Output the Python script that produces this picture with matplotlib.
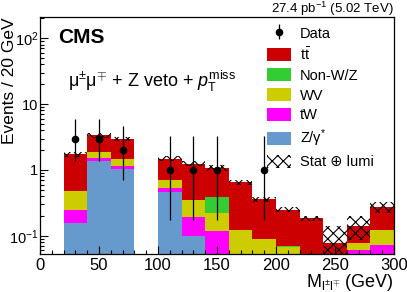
import numpy as np
import matplotlib
matplotlib.use("Agg")
import matplotlib.pyplot as plt
from matplotlib.patches import Patch

plt.rcParams['font.family'] = ['Liberation Sans', 'DejaVu Sans']
plt.rcParams['mathtext.fontset'] = 'custom'
plt.rcParams['mathtext.rm'] = 'Liberation Sans'
plt.rcParams['mathtext.it'] = 'Liberation Sans:italic'
plt.rcParams['mathtext.bf'] = 'Liberation Sans:bold'
plt.rcParams['hatch.linewidth'] = 0.8

# bin edges (GeV), 20 GeV bins
edges = [20, 40, 60, 80, 100, 120, 140, 160, 180, 200, 220, 240, 260, 280, 300]

# stacked backgrounds, bottom to top
zgamma = [0.156, 1.39, 1.02, 0, 0.46, 0.10, 0, 0, 0, 0, 0, 0, 0, 0]
tw     = [0.092, 0.13, 0.13, 0, 0.08, 0.095, 0.119, 0, 0, 0, 0, 0, 0.061, 0.073]
wv     = [0.232, 0.38, 0.34, 0, 0.16, 0.149, 0.10, 0.122, 0.089, 0.067, 0, 0, 0.016, 0.049]
nonwz  = [0, 0, 0, 0, 0, 0, 0.17, 0, 0, 0.003, 0, 0, 0, 0]
ttbar  = [1.25, 1.49, 1.50, 0, 0.79, 0.906, 0.69, 0.53, 0.27, 0.18, 0.184, 0.079, 0.065, 0.15]
# stat (+) lumi uncertainty on the total
unc    = [0.16, 0.30, 0.20, 0, 0.13, 0.10, 0.11, 0.06, 0.03, 0.02, 0.014, 0.062, 0.055, 0.05]

# data points
data_x  = [30, 50, 70, 110, 130, 150, 190]
data_y  = [3, 3, 2, 1, 1, 1, 1]
data_lo = [1.37, 1.37, 0.71, 0.173, 0.173, 0.173, 0.173]
data_hi = [5.92, 5.92, 4.64, 3.30, 3.30, 3.30, 3.30]

components = [
    (zgamma, '#6699cc', r'Z/γ$^{*}$'),
    (tw, '#ff00ff', 'tW'),
    (wv, '#cccc00', 'WV'),
    (nonwz, '#33cc33', 'Non-W/Z'),
    (ttbar, '#cc0000', r'$\mathrm{t\bar{t}}$'),
]

fig = plt.figure(figsize=(4.07, 2.92), dpi=100)
ax = fig.add_axes([40 / 407, 38 / 292, 354 / 407, 237 / 292])

left = np.array(edges[:-1], dtype=float)
width = np.diff(edges)
bottom = np.zeros(len(left))
handles = {}
for vals, col, lab in components:
    vals = np.array(vals)
    ax.bar(left, vals, width=width, bottom=bottom, align='edge',
           color=col, linewidth=0)
    handles[lab] = Patch(facecolor=col, edgecolor='none', label=lab)
    bottom = bottom + vals

total = bottom
unc = np.array(unc)
band_lo = np.clip(total - unc, 1e-3, None)
mask = unc > 0
ax.bar(left[mask], (total + unc - band_lo)[mask], width=width[mask],
       bottom=band_lo[mask], align='edge', fill=False, hatch='xxx',
       edgecolor='black', linewidth=0, zorder=2)

data_x = np.array(data_x)
data_y = np.array(data_y, dtype=float)
yerr = [data_y - np.array(data_lo), np.array(data_hi) - data_y]
eb = ax.errorbar(data_x, data_y, yerr=yerr, fmt='o', color='black',
                 markersize=4.5, elinewidth=0.9, capsize=0, zorder=4)

ax.set_yscale('log')
ax.set_xlim(0, 300)
ax.set_ylim(0.053, 210)

ax.set_yticks([0.1, 1, 10, 100], labels=[r'$10^{-1}$', '1', '10', r'$10^{2}$'])
ax.yaxis.set_minor_formatter(matplotlib.ticker.NullFormatter())
ax.set_xticks([0, 50, 100, 150, 200, 250, 300])
ax.xaxis.set_minor_locator(matplotlib.ticker.MultipleLocator(10))
ax.tick_params(which='both', direction='in', top=False, right=False)
ax.tick_params(axis='x', labelsize=12, pad=3)
ax.tick_params(axis='y', labelsize=10.5, pad=1.2)
ax.tick_params(which='major', length=6, width=0.8)
ax.tick_params(which='minor', length=3, width=0.8)
for s in ax.spines.values():
    s.set_linewidth(0.9)

ax.set_ylabel('Events / 20 GeV', fontsize=12.5, loc='top')
ax.yaxis.set_label_coords(-0.0655, 1.0)
ax.set_xlabel(r'M$_{\mathrm{l^{\pm}l^{\mp}}}$ (GeV)', fontsize=13, loc='right')
ax.xaxis.set_label_coords(1.0, -0.078)

ax.text(0.05, 0.889, 'CMS', transform=ax.transAxes, fontsize=15,
        fontweight='bold', va='baseline')
ax.text(0.08, 0.705, r'μ$^{\pm}$μ$^{\mp}$ + Z veto + $p_{\mathrm{T}}^{\mathrm{miss}}$',
        transform=ax.transAxes, fontsize=13, va='baseline')
ax.text(1.0, 1.017, r'27.4 pb$^{-1}$ (5.02 TeV)', transform=ax.transAxes,
        fontsize=9.5, ha='right', va='baseline')

band_handle = Patch(facecolor='white', edgecolor='black', hatch='xxx',
                    linewidth=0, label='Stat ⊕ lumi')
leg_handles = [eb, handles[r'$\mathrm{t\bar{t}}$'], handles['Non-W/Z'],
               handles['WV'], handles['tW'], handles[r'Z/γ$^{*}$'], band_handle]
leg_labels = ['Data', r'$\mathrm{t\bar{t}}$', 'Non-W/Z', 'WV', 'tW',
              r'Z/γ$^{*}$', 'Stat ⊕ lumi']
ax.legend(leg_handles, leg_labels, loc='upper left',
          bbox_to_anchor=(0.64, 0.962), frameon=False, fontsize=10.5,
          handlelength=1.65, handleheight=1.0, labelspacing=0.37,
          handletextpad=0.64, borderpad=0, borderaxespad=0)

fig.savefig('out.png', dpi=100)
